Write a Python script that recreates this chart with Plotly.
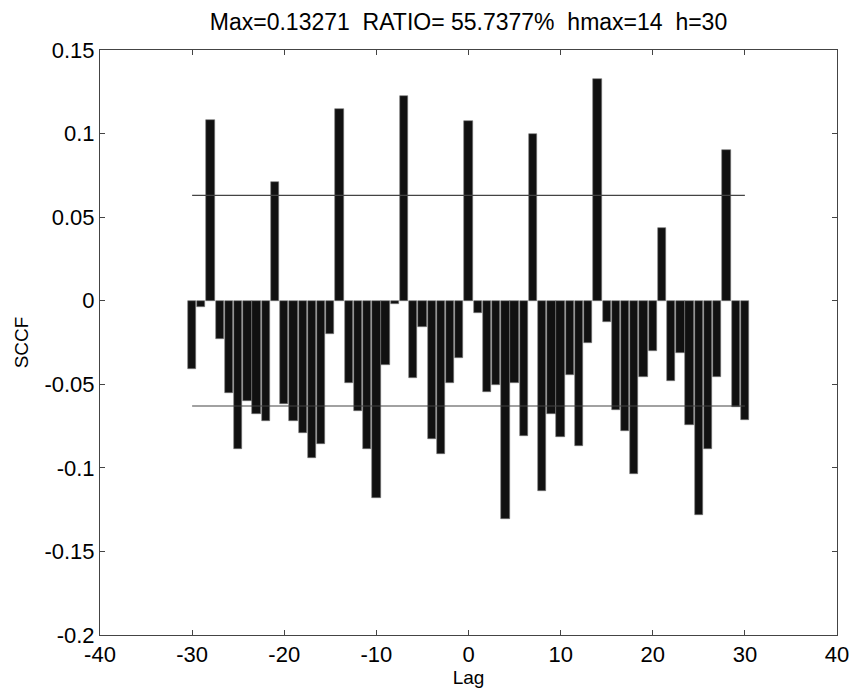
import plotly.graph_objects as go

lags = list(range(-30, 31))
sccf = [
    -0.041, -0.004, 0.108, -0.023, -0.055, -0.089, -0.060, -0.068, -0.072, 0.071,
    -0.062, -0.072, -0.079, -0.094, -0.086, -0.020, 0.1145, -0.0495, -0.066, -0.0885,
    -0.118, -0.0386, -0.002, 0.1227, -0.046, -0.0156, -0.083, -0.0915, -0.0495, -0.034,
    0.1077,
    -0.0076, -0.0545, -0.0505, -0.1305, -0.049, -0.0807, 0.0997, -0.114, -0.068, -0.0816,
    -0.0445, -0.087, -0.0252, 0.13271, -0.013, -0.0655, -0.078, -0.1038, -0.0457, -0.030,
    0.0434, -0.048, -0.031, -0.0745, -0.128, -0.089, -0.0455, 0.0903, -0.0635, -0.0715,
]
bound = 0.063
bound_x = [-30, 30]

x_tickvals = [-40, -30, -20, -10, 0, 10, 20, 30, 40]
x_ticktext = ["-40", "-30", "-20", "-10", "0", "10", "20", "30", "40"]
y_tickvals = [-0.2, -0.15, -0.1, -0.05, 0, 0.05, 0.1, 0.15]
y_ticktext = ["-0.2", "-0.15", "-0.1", "-0.05", "0", "0.05", "0.1", "0.15"]

title_text = "Max=0.13271  RATIO= 55.7377%  hmax=14  h=30"

FONT = "Arial, 'Liberation Sans', sans-serif"

fig = go.Figure()
fig.add_trace(go.Bar(
    x=lags, y=sccf, width=0.9,
    marker=dict(color="#111111", line=dict(color="#777777", width=0.6)),
    showlegend=False,
))
fig.add_trace(go.Scatter(
    x=bound_x, y=[bound, bound], mode="lines",
    line=dict(color="#444444", width=1.2), showlegend=False,
))
fig.add_trace(go.Scatter(
    x=bound_x, y=[-bound, -bound], mode="lines",
    line=dict(color="#444444", width=1.2), showlegend=False,
))

axis_common = dict(
    showgrid=False, zeroline=False, showline=True, linecolor="#444444", linewidth=1,
    mirror="ticks", ticks="inside", ticklen=5, tickcolor="#444444", tickwidth=1,
    tickfont=dict(family=FONT, size=22, color="#000000"),
)

fig.update_layout(
    width=861, height=693,
    margin=dict(l=100, r=18, t=50, b=58),
    paper_bgcolor="white", plot_bgcolor="white",
    bargap=0,
    title=dict(text=title_text, x=0.5, xref="paper", xanchor="center",
               y=1 - 22 / 693, yref="container", yanchor="middle",
               font=dict(family=FONT, size=23, color="#000000")),
    xaxis=dict(range=[-40, 40], tickvals=x_tickvals, ticktext=x_ticktext,
               title=dict(text="Lag", font=dict(family=FONT, size=19, color="#000000"), standoff=0),
               **axis_common),
    yaxis=dict(range=[-0.2, 0.15], tickvals=y_tickvals, ticktext=y_ticktext,
               title=dict(text="SCCF", font=dict(family=FONT, size=19, color="#000000"), standoff=10),
               **axis_common),
)

fig.write_html("out.html")
